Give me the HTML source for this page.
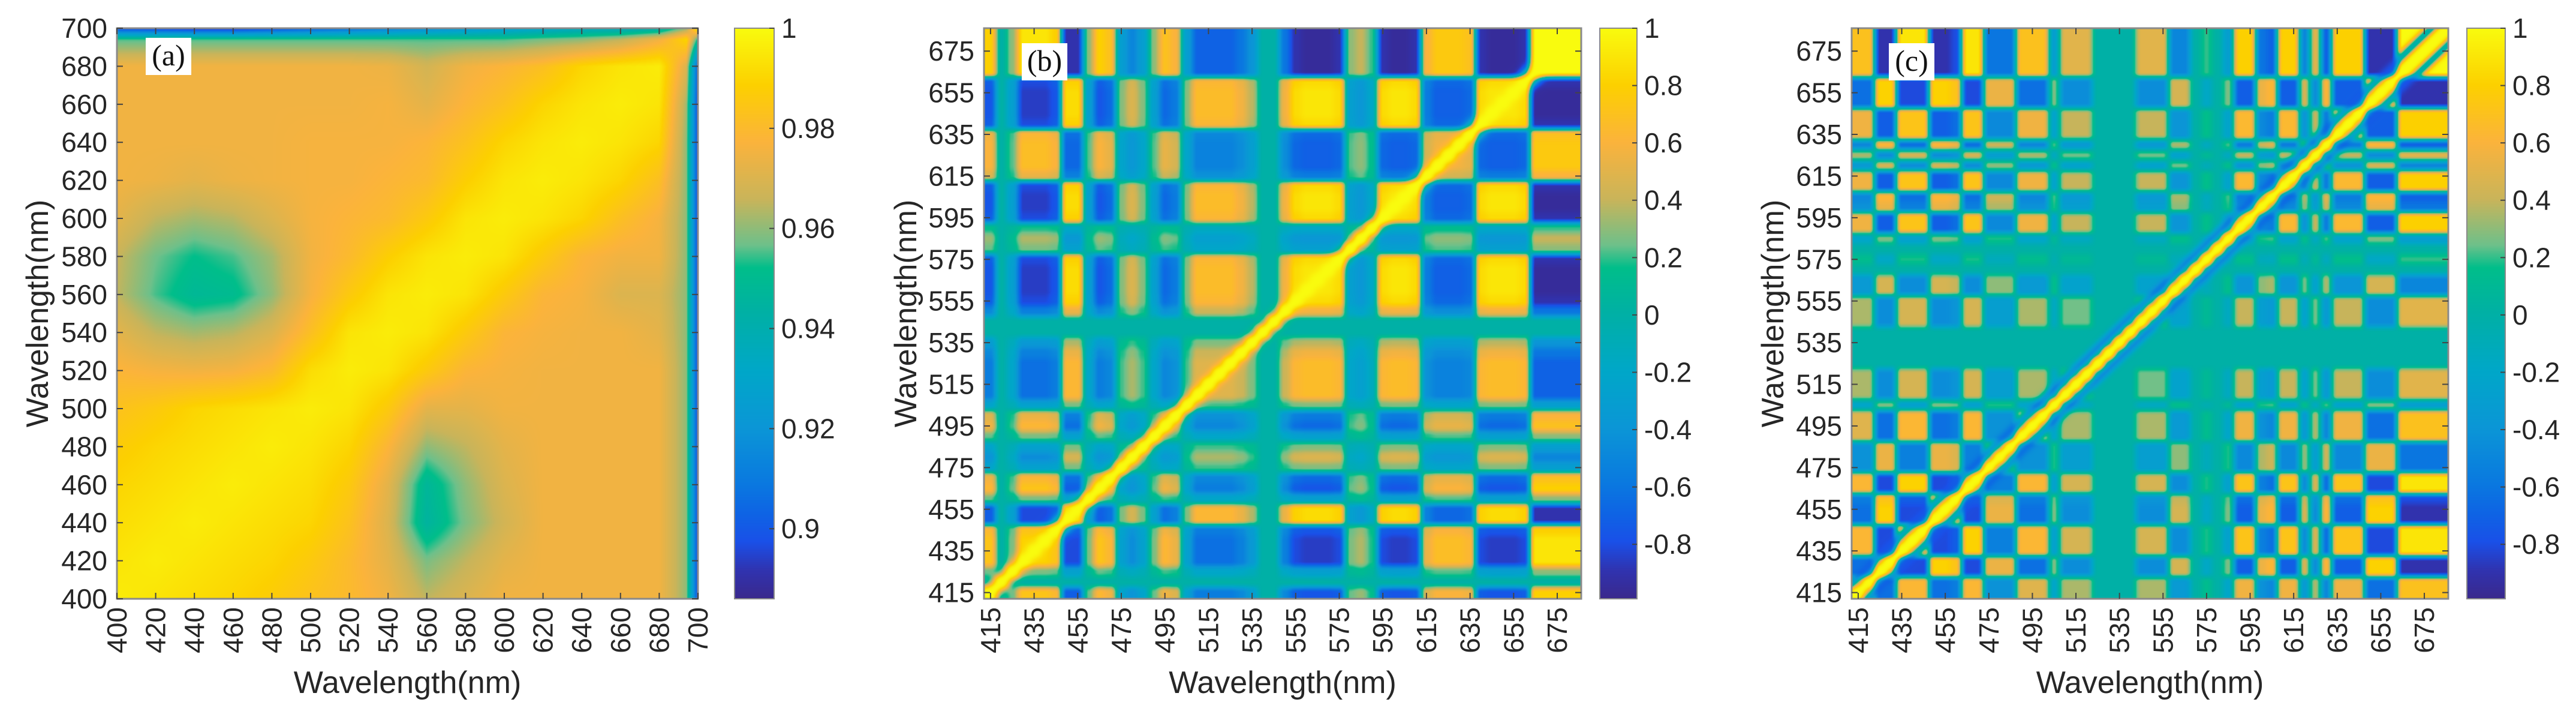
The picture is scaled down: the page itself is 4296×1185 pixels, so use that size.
<!DOCTYPE html>
<html><head><meta charset="utf-8"><style>
html,body{margin:0;padding:0;background:#fff;}
#root{position:relative;width:4296px;height:1185px;overflow:hidden;background:#fff;}
canvas{position:absolute;display:block;}
svg{position:absolute;left:0;top:0;}
</style></head><body>
<div id="root">
<canvas id="ca"></canvas>
<canvas id="cb"></canvas>
<canvas id="cc"></canvas>
<canvas id="cba"></canvas>
<canvas id="cbb"></canvas>
<canvas id="cbc"></canvas>
<svg id="ov" width="4296" height="1185" xmlns="http://www.w3.org/2000/svg"></svg>
</div>
<script>
// ---- data ----
const aGrid=[400,420,440,460,480,500,520,540,560,580,600,620,640,660,680,694,700];
const aMatrix=[
[0.996,0.994,0.992,0.99,0.987,0.983,0.98,0.975,0.965,0.97,0.975,0.975,0.975,0.975,0.975,0.96,0.895],
[0.994,0.996,0.994,0.992,0.99,0.986,0.98,0.972,0.958,0.965,0.972,0.975,0.975,0.975,0.975,0.96,0.895],
[0.992,0.994,0.996,0.994,0.992,0.99,0.983,0.97,0.945,0.958,0.968,0.975,0.975,0.975,0.975,0.96,0.895],
[0.99,0.992,0.994,0.996,0.994,0.992,0.986,0.972,0.947,0.96,0.97,0.975,0.975,0.975,0.975,0.96,0.895],
[0.987,0.99,0.992,0.994,0.996,0.994,0.99,0.978,0.96,0.965,0.972,0.975,0.975,0.975,0.975,0.96,0.895],
[0.983,0.986,0.99,0.992,0.994,0.996,0.994,0.986,0.972,0.972,0.975,0.975,0.975,0.975,0.975,0.96,0.895],
[0.978,0.976,0.975,0.976,0.98,0.992,0.996,0.994,0.986,0.978,0.976,0.975,0.975,0.975,0.975,0.96,0.895],
[0.972,0.965,0.962,0.964,0.97,0.982,0.994,0.996,0.994,0.986,0.978,0.976,0.975,0.975,0.972,0.96,0.895],
[0.965,0.955,0.948,0.95,0.96,0.976,0.986,0.994,0.996,0.994,0.986,0.978,0.976,0.97,0.97,0.96,0.895],
[0.966,0.957,0.952,0.955,0.962,0.975,0.98,0.988,0.994,0.996,0.994,0.986,0.978,0.975,0.975,0.96,0.895],
[0.972,0.965,0.962,0.964,0.97,0.976,0.978,0.98,0.986,0.994,0.996,0.994,0.99,0.982,0.976,0.96,0.895],
[0.975,0.974,0.972,0.974,0.975,0.976,0.976,0.978,0.98,0.988,0.994,0.996,0.994,0.99,0.982,0.96,0.895],
[0.975,0.975,0.975,0.975,0.975,0.976,0.976,0.976,0.978,0.983,0.99,0.994,0.996,0.994,0.99,0.96,0.895],
[0.975,0.975,0.975,0.975,0.975,0.975,0.975,0.976,0.972,0.978,0.983,0.99,0.994,0.996,0.994,0.962,0.895],
[0.975,0.975,0.975,0.975,0.975,0.975,0.975,0.974,0.968,0.975,0.978,0.982,0.99,0.994,0.996,0.97,0.9],
[0.955,0.955,0.955,0.955,0.955,0.955,0.955,0.955,0.955,0.955,0.955,0.958,0.96,0.965,0.975,0.99,0.95],
[0.895,0.893,0.89,0.89,0.895,0.9,0.905,0.91,0.915,0.92,0.925,0.93,0.935,0.935,0.94,0.96,1]
];
const bcWavelengths=[415,420,425,430,435,440,445,450,455,460,465,470,475,480,485,490,495,500,505,510,515,520,525,530,535,540,545,550,555,560,565,570,575,580,585,590,595,600,605,610,615,620,625,630,635,640,645,650,655,660,665,670,675,680,685];
const bLoadings=[0.8,0.0,0.3,0.9,0.9,0.9,0.8,-0.9,-0.9,0.3,0.8,0.7,-0.3,-0.5,-0.3,0.3,0.7,0.6,-0.3,-0.7,-0.7,-0.7,-0.7,-0.6,-0.4,0,0,-0.6,-0.9,-0.95,-0.95,-0.95,-0.9,0.3,0.4,0.2,-0.9,-0.95,-0.95,-0.9,0.6,0.75,0.75,0.75,0.7,-0.9,-0.95,-0.95,-0.95,-0.9,1,1,1,1,1];
const cLoadings=[0.7,0.7,-0.9,-0.9,0.9,0.9,0.9,-0.9,-0.9,-0.8,0.9,0.9,-0.6,-0.6,-0.6,0.7,0.7,0.7,-0.3,0.5,0.5,0.5,0,0,0,0,0.5,0.5,0.5,-0.5,-0.5,0,0.2,0,-0.3,0.8,0.8,-0.6,-0.7,0.8,0.8,-0.5,0.5,-0.7,0.8,0.8,0.8,-0.9,-0.9,-0.9,1,1,1,1,1];
const aTicks=[400,420,440,460,480,500,520,540,560,580,600,620,640,660,680,700];
const bcTicks=[415,435,455,475,495,515,535,555,575,595,615,635,655,675];
const aCbarTicks=[0.9,0.92,0.94,0.96,0.98,1];
const aCbarLabels=["0.9","0.92","0.94","0.96","0.98","1"];
const bcCbarTicks=[-0.8,-0.6,-0.4,-0.2,0,0.2,0.4,0.6,0.8,1];
const bcCbarLabels=["-0.8","-0.6","-0.4","-0.2","0","0.2","0.4","0.6","0.8","1"];

// ---- colormap (parula-like) ----
const cmT=[0,0.05,0.1,0.15,0.2,0.3,0.4,0.5,0.58,0.62,0.7,0.8,0.9,1];
const cmC=[[58,40,140],[48,51,176],[26,80,232],[14,100,228],[10,120,224],[11,150,214],[0,167,200],[0,176,165],[0,190,138],[110,192,138],[201,180,90],[251,179,60],[252,208,0],[249,251,14]];
function cmap(t){t=Math.max(0,Math.min(1,t));for(let k=1;k<cmT.length;k++){if(t<=cmT[k]){const f=(t-cmT[k-1])/(cmT[k]-cmT[k-1]);const a=cmC[k-1],b=cmC[k];return [a[0]+(b[0]-a[0])*f,a[1]+(b[1]-a[1])*f,a[2]+(b[2]-a[2])*f];}}return cmC[cmC.length-1];}

const panels=[
 {id:'a',x0:195,x1:1164,y0:47,y1:998,cb0:1225,cb1:1291,dom:[400,700],vmin:0.886,vmax:1,grid:aGrid,val:(i,j)=>aMatrix[i][j],sharp:false,diagW:0,flank:0,ticks:aTicks,cT:aCbarTicks,cL:aCbarLabels,ytitle:62,label:'(a)',lx:243,ly:63},
 {id:'b',x0:1641,x1:2637,y0:47,y1:998,cb0:2668,cb1:2730,dom:[412,686],vmin:-0.99,vmax:1,grid:bcWavelengths,val:(i,j)=>i===j?1:bLoadings[i]*bLoadings[j],sharp:true,diagW:5,flank:0,ticks:bcTicks,cT:bcCbarTicks,cL:bcCbarLabels,ytitle:1510,label:'(b)',lx:1704,ly:72},
 {id:'c',x0:3088,x1:4083,y0:47,y1:998,cb0:4114,cb1:4178,dom:[412,686],vmin:-0.99,vmax:1,grid:bcWavelengths,val:(i,j)=>i===j?1:cLoadings[i]*cLoadings[j],sharp:true,diagW:3.5,flank:0.6,ticks:bcTicks,cT:bcCbarTicks,cL:bcCbarLabels,ytitle:2956,label:'(c)',lx:3150,ly:72}
];
function locate(g,v){if(v<=g[0])return [0,0];if(v>=g[g.length-1])return [g.length-2,1];let k=0;while(g[k+1]<v)k++;return [k,(v-g[k])/(g[k+1]-g[k])];}
function ss(f){return f*f*(3-2*f);}
const NS='http://www.w3.org/2000/svg';
const ov=document.getElementById('ov');
function el(tag,attrs,parent){const e=document.createElementNS(NS,tag);for(const k in attrs)e.setAttribute(k,attrs[k]);(parent||ov).appendChild(e);return e;}

panels.forEach(p=>{
 const W=p.x1-p.x0,H=p.y1-p.y0;
 const span=p.dom[1]-p.dom[0];
 const xs=v=>p.x0+(v-p.dom[0])/span*W;
 const ys=v=>p.y1-(v-p.dom[0])/span*H;
 const cv=document.getElementById('c'+p.id);
 cv.width=W;cv.height=H;cv.style.left=p.x0+'px';cv.style.top=p.y0+'px';
 const ctx=cv.getContext('2d');const img=ctx.createImageData(W,H);
 const colLoc=[],colLam=[];for(let px=0;px<W;px++){const l=p.dom[0]+(px+0.5)/W*span;colLam.push(l);colLoc.push(locate(p.grid,l));}
 for(let py=0;py<H;py++){
  const ly=p.dom[1]-(py+0.5)/H*span;
  const [i,fy0]=locate(p.grid,ly);
  const fy=p.sharp?ss(fy0):fy0;
  for(let px=0;px<W;px++){
   const [j,fx0]=colLoc[px];const fx=p.sharp?ss(fx0):fx0;
   let v=(p.val(i,j)*(1-fx)+p.val(i,j+1)*fx)*(1-fy)+(p.val(i+1,j)*(1-fx)+p.val(i+1,j+1)*fx)*fy;
   if(p.diagW>0){
    const d=Math.abs(colLam[px]-ly);
    if(p.flank>0){const fl=Math.exp(-Math.pow((d-2.2*p.diagW)/(0.9*p.diagW),2));v=v*(1-fl)+(-0.75)*fl*p.flank+v*fl*(1-p.flank);}
    const r=Math.exp(-Math.pow(d/p.diagW,2));v=v*(1-r)+1*r;
   }
   const c=cmap((v-p.vmin)/(p.vmax-p.vmin));const o=(py*W+px)*4;
   img.data[o]=c[0];img.data[o+1]=c[1];img.data[o+2]=c[2];img.data[o+3]=255;
  }
 }
 ctx.putImageData(img,0,0);
 // colorbar
 const cb=document.getElementById('cb'+p.id);const CW=p.cb1-p.cb0;
 cb.width=CW;cb.height=H;cb.style.left=p.cb0+'px';cb.style.top=p.y0+'px';
 const cx=cb.getContext('2d');
 for(let py=0;py<H;py++){const c=cmap(1-(py+0.5)/H);cx.fillStyle='rgb('+c.map(Math.round).join(',')+')';cx.fillRect(0,py,CW,1);}
 const g=el('g',{});
 
 
 const fr=el('rect',{x:p.x0,y:p.y0,width:W,height:H,fill:'none',stroke:'#8a8a8a','stroke-width':3},g);
 
 
 const cfr=el('rect',{x:p.cb0,y:p.y0,width:CW,height:H,fill:'none',stroke:'#8a8a8a','stroke-width':2},g);
 
 
 p.ticks.forEach(t=>{
  const x=xs(t),y=ys(t);
  el('line',{x1:x,y1:p.y1,x2:x,y2:p.y1-10,stroke:'#444','stroke-width':2},g);
  el('line',{x1:x,y1:p.y0,x2:x,y2:p.y0+10,stroke:'#444','stroke-width':2},g);
  el('line',{x1:p.x0,y1:y,x2:p.x0+10,y2:y,stroke:'#444','stroke-width':2},g);
  el('line',{x1:p.x1,y1:y,x2:p.x1-10,y2:y,stroke:'#444','stroke-width':2},g);
  const yl=el('text',{x:p.x0-16,y:y+16,'text-anchor':'end','font-family':'Liberation Sans, sans-serif','font-size':46,fill:'#262626'},g);
  yl.textContent=t;
  
  
  const xl=el('text',{x:0,y:0,'text-anchor':'end','font-family':'Liberation Sans, sans-serif','font-size':46,fill:'#262626',transform:'translate('+(x+16)+','+(p.y1+14)+') rotate(-90)'},g);
  xl.textContent=t;
  
  
 });
 p.cT.forEach((t,k)=>{
  const y=p.y1-(t-p.vmin)/(p.vmax-p.vmin)*H;
  el('line',{x1:p.cb1,y1:y,x2:p.cb1-8,y2:y,stroke:'#444','stroke-width':2},g);
  const cl=el('text',{x:p.cb1+12,y:y+16,'font-family':'Liberation Sans, sans-serif','font-size':46,fill:'#262626'},g);
  cl.textContent=p.cL[k];
  
  
 });
 const xt=el('text',{x:(p.x0+p.x1)/2,y:1155,'text-anchor':'middle','font-family':'Liberation Sans, sans-serif','font-size':52,fill:'#262626'},g);
 xt.textContent='Wavelength(nm)';
 
 
 const yt=el('text',{x:0,y:0,'text-anchor':'middle','font-family':'Liberation Sans, sans-serif','font-size':52,fill:'#262626',transform:'translate('+(p.ytitle+18)+','+((p.y0+p.y1)/2)+') rotate(-90)'},g);
 yt.textContent='Wavelength(nm)';
 
 
 const lb=el('rect',{x:p.lx,y:p.ly,width:76,height:62,fill:'#fff'},g);
 
 
 const lt=el('text',{x:p.lx+38,y:p.ly+46,'text-anchor':'middle','font-family':'Liberation Serif, serif','font-size':50,fill:'#111'},g);
 lt.textContent=p.label;
 
 
});
</script>
</body></html>
